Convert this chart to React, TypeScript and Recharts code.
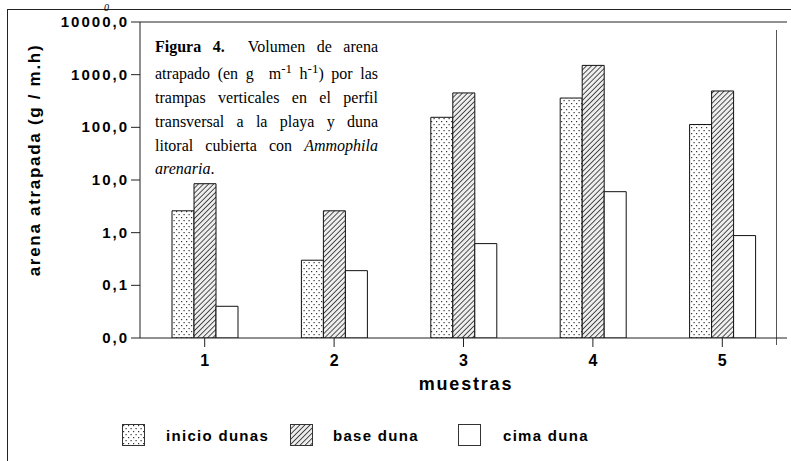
import React from 'react';
import { BarChart, Bar, XAxis, YAxis, ReferenceLine } from 'recharts';

// Arena atrapada por trampas verticales (g / m.h), escala logaritmica
const muestras = ['1', '2', '3', '4', '5'];
const inicioDunas = [2.6, 0.3, 155, 360, 113];
const baseDuna = [8.5, 2.6, 450, 1500, 490];
const cimaDuna = [0.04, 0.19, 0.62, 6.0, 0.88];
const yTicks = [0.01, 0.1, 1, 10, 100, 1000, 10000];
const serieNames = ['inicio dunas', 'base duna', 'cima duna'];

const data = muestras.map((m, i) => ({
  muestra: m,
  inicio: inicioDunas[i],
  base: baseDuna[i],
  cima: cimaDuna[i],
}));

const series = [
  { key: 'inicio', name: serieNames[0], fill: 'url(#dots)' },
  { key: 'base', name: serieNames[1], fill: 'url(#hatch)' },
  { key: 'cima', name: serieNames[2], fill: '#fff' },
];

const SANS = '"Liberation Sans", Arial, sans-serif';
const SERIF = '"Liberation Serif", "Times New Roman", serif';

const fmt = (v: number) => v.toFixed(1).replace('.', ',');

const YTick = (props: any) => {
  const { x, y, payload } = props;
  return (
    <text
      x={x}
      y={y}
      dy={5}
      textAnchor="end"
      fill="#000"
      style={{ fontFamily: SANS, fontWeight: 'bold', fontSize: 15, letterSpacing: '2px' }}
    >
      {fmt(payload.value)}
    </text>
  );
};

const XTick = (props: any) => {
  const { x, y, payload } = props;
  return (
    <text
      x={x}
      y={y}
      dy={17}
      textAnchor="middle"
      fill="#000"
      style={{ fontFamily: SANS, fontWeight: 'bold', fontSize: 16 }}
    >
      {payload.value}
    </text>
  );
};

const Patterns = () => (
  <defs>
    <pattern id="dots" width="5" height="6" patternUnits="userSpaceOnUse">
      <rect width="5" height="6" fill="#fff" />
      <rect x="1" y="1" width="1.2" height="1.2" fill="#333" />
      <rect x="3.5" y="4" width="1.2" height="1.2" fill="#333" />
    </pattern>
    <pattern
      id="hatch"
      width="3.6"
      height="3.6"
      patternUnits="userSpaceOnUse"
      patternTransform="rotate(45)"
    >
      <rect width="3.6" height="3.6" fill="#eee" />
      <line x1="0" y1="0" x2="0" y2="3.6" stroke="#333" strokeWidth="1.7" />
    </pattern>
  </defs>
);

const supStyle: React.CSSProperties = { fontSize: 13, verticalAlign: '6px', lineHeight: 0 };

const annotationLines: React.ReactNode[] = [
  <>
    <b>Figura 4.</b>&nbsp;&nbsp;Volumen de arena
  </>,
  <>
    atrapado (en g&nbsp;&nbsp;m<span style={supStyle}>-1</span> h<span style={supStyle}>-1</span>) por las
  </>,
  <>trampas verticales en el perfil</>,
  <>transversal a la playa y duna</>,
  <>
    litoral cubierta con <i>Ammophila</i>
  </>,
];

export default function App() {
  const legendX = [122, 290, 458];
  const legendTextX = [166, 333, 503];

  return (
    <div style={{ position: 'absolute', left: 0, top: 0, width: 791, height: 461, background: '#fff', overflow: 'hidden' }}>
      {/* marco exterior */}
      <div
        style={{
          position: 'absolute',
          left: 7,
          top: 9,
          width: 800,
          height: 470,
          borderTop: '1.5px solid #222',
          borderLeft: '1.5px solid #222',
        }}
      />
      <div style={{ position: 'absolute', left: 775.5, top: 30, width: 1.5, height: 315, background: '#555' }} />

      <BarChart
        width={791}
        height={461}
        data={data}
        margin={{ top: 22, right: 4, bottom: 83, left: 60 }}
        barSize={22}
        barGap={0}
        style={{ position: 'absolute', left: 0, top: 0 }}
      >
        <Patterns />
        <XAxis
          dataKey="muestra"
          height={40}
          stroke="#222"
          tickSize={9}
          tick={<XTick />}
        />
        <YAxis
          width={80}
          scale="log"
          domain={[0.01, 10000]}
          ticks={yTicks}
          allowDataOverflow
          stroke="#222"
          tickSize={9}
          tickMargin={2}
          tick={<YTick />}
          interval={0}
        />
        <ReferenceLine y={10000} stroke="#222" strokeWidth={1} />
        {series.map((s) => (
          <Bar
            key={s.key}
            dataKey={s.key}
            name={s.name}
            fill={s.fill}
            stroke="#111"
            strokeWidth={1}
            isAnimationActive={false}
          />
        ))}
      </BarChart>

      {/* titulos de ejes */}
      <svg width={791} height={461} style={{ position: 'absolute', left: 0, top: 0, pointerEvents: 'none' }}>
        <text
          x={34}
          y={160}
          transform="rotate(-90 34 160)"
          textAnchor="middle"
          dominantBaseline="central"
          style={{ fontFamily: SANS, fontWeight: 'bold', fontSize: 17, letterSpacing: '1.7px' }}
          fill="#000"
        >
          arena atrapada (g / m.h)
        </text>
        <text
          x={466}
          y={390}
          textAnchor="middle"
          style={{ fontFamily: SANS, fontWeight: 'bold', fontSize: 18, letterSpacing: '1.8px' }}
          fill="#000"
        >
          muestras
        </text>
        <text x={104} y={11} style={{ fontFamily: SERIF, fontStyle: 'italic', fontSize: 10 }} fill="#000">
          0
        </text>
      </svg>

      {/* texto de la figura */}
      <div
        style={{
          position: 'absolute',
          left: 155,
          top: 35,
          width: 223,
          fontFamily: SERIF,
          fontSize: 16,
          color: '#000',
        }}
      >
        {annotationLines.map((line, i) => (
          <div
            key={i}
            style={{ height: i === 0 ? 27 : 24, lineHeight: '24px', textAlign: 'justify', textAlignLast: 'justify', whiteSpace: 'nowrap' as const }}
          >
            {line}
          </div>
        ))}
        <div style={{ lineHeight: '22px' }}>
          <i>arenaria</i>.
        </div>
      </div>

      {/* leyenda */}
      {series.map((s, i) => (
        <React.Fragment key={s.key}>
          <svg
            width={24}
            height={23}
            style={{ position: 'absolute', left: legendX[i], top: 424 }}
          >
            <rect x={0.5} y={0.5} width={22} height={21} fill={s.fill} stroke="#333" strokeWidth={1} />
          </svg>
          <div
            style={{
              position: 'absolute',
              left: legendTextX[i],
              top: 426,
              fontFamily: SANS,
              fontWeight: 'bold',
              fontSize: 15,
              letterSpacing: '1.3px',
              color: '#000',
              lineHeight: '20px',
              whiteSpace: 'nowrap',
            }}
          >
            {s.name}
          </div>
        </React.Fragment>
      ))}
    </div>
  );
}
